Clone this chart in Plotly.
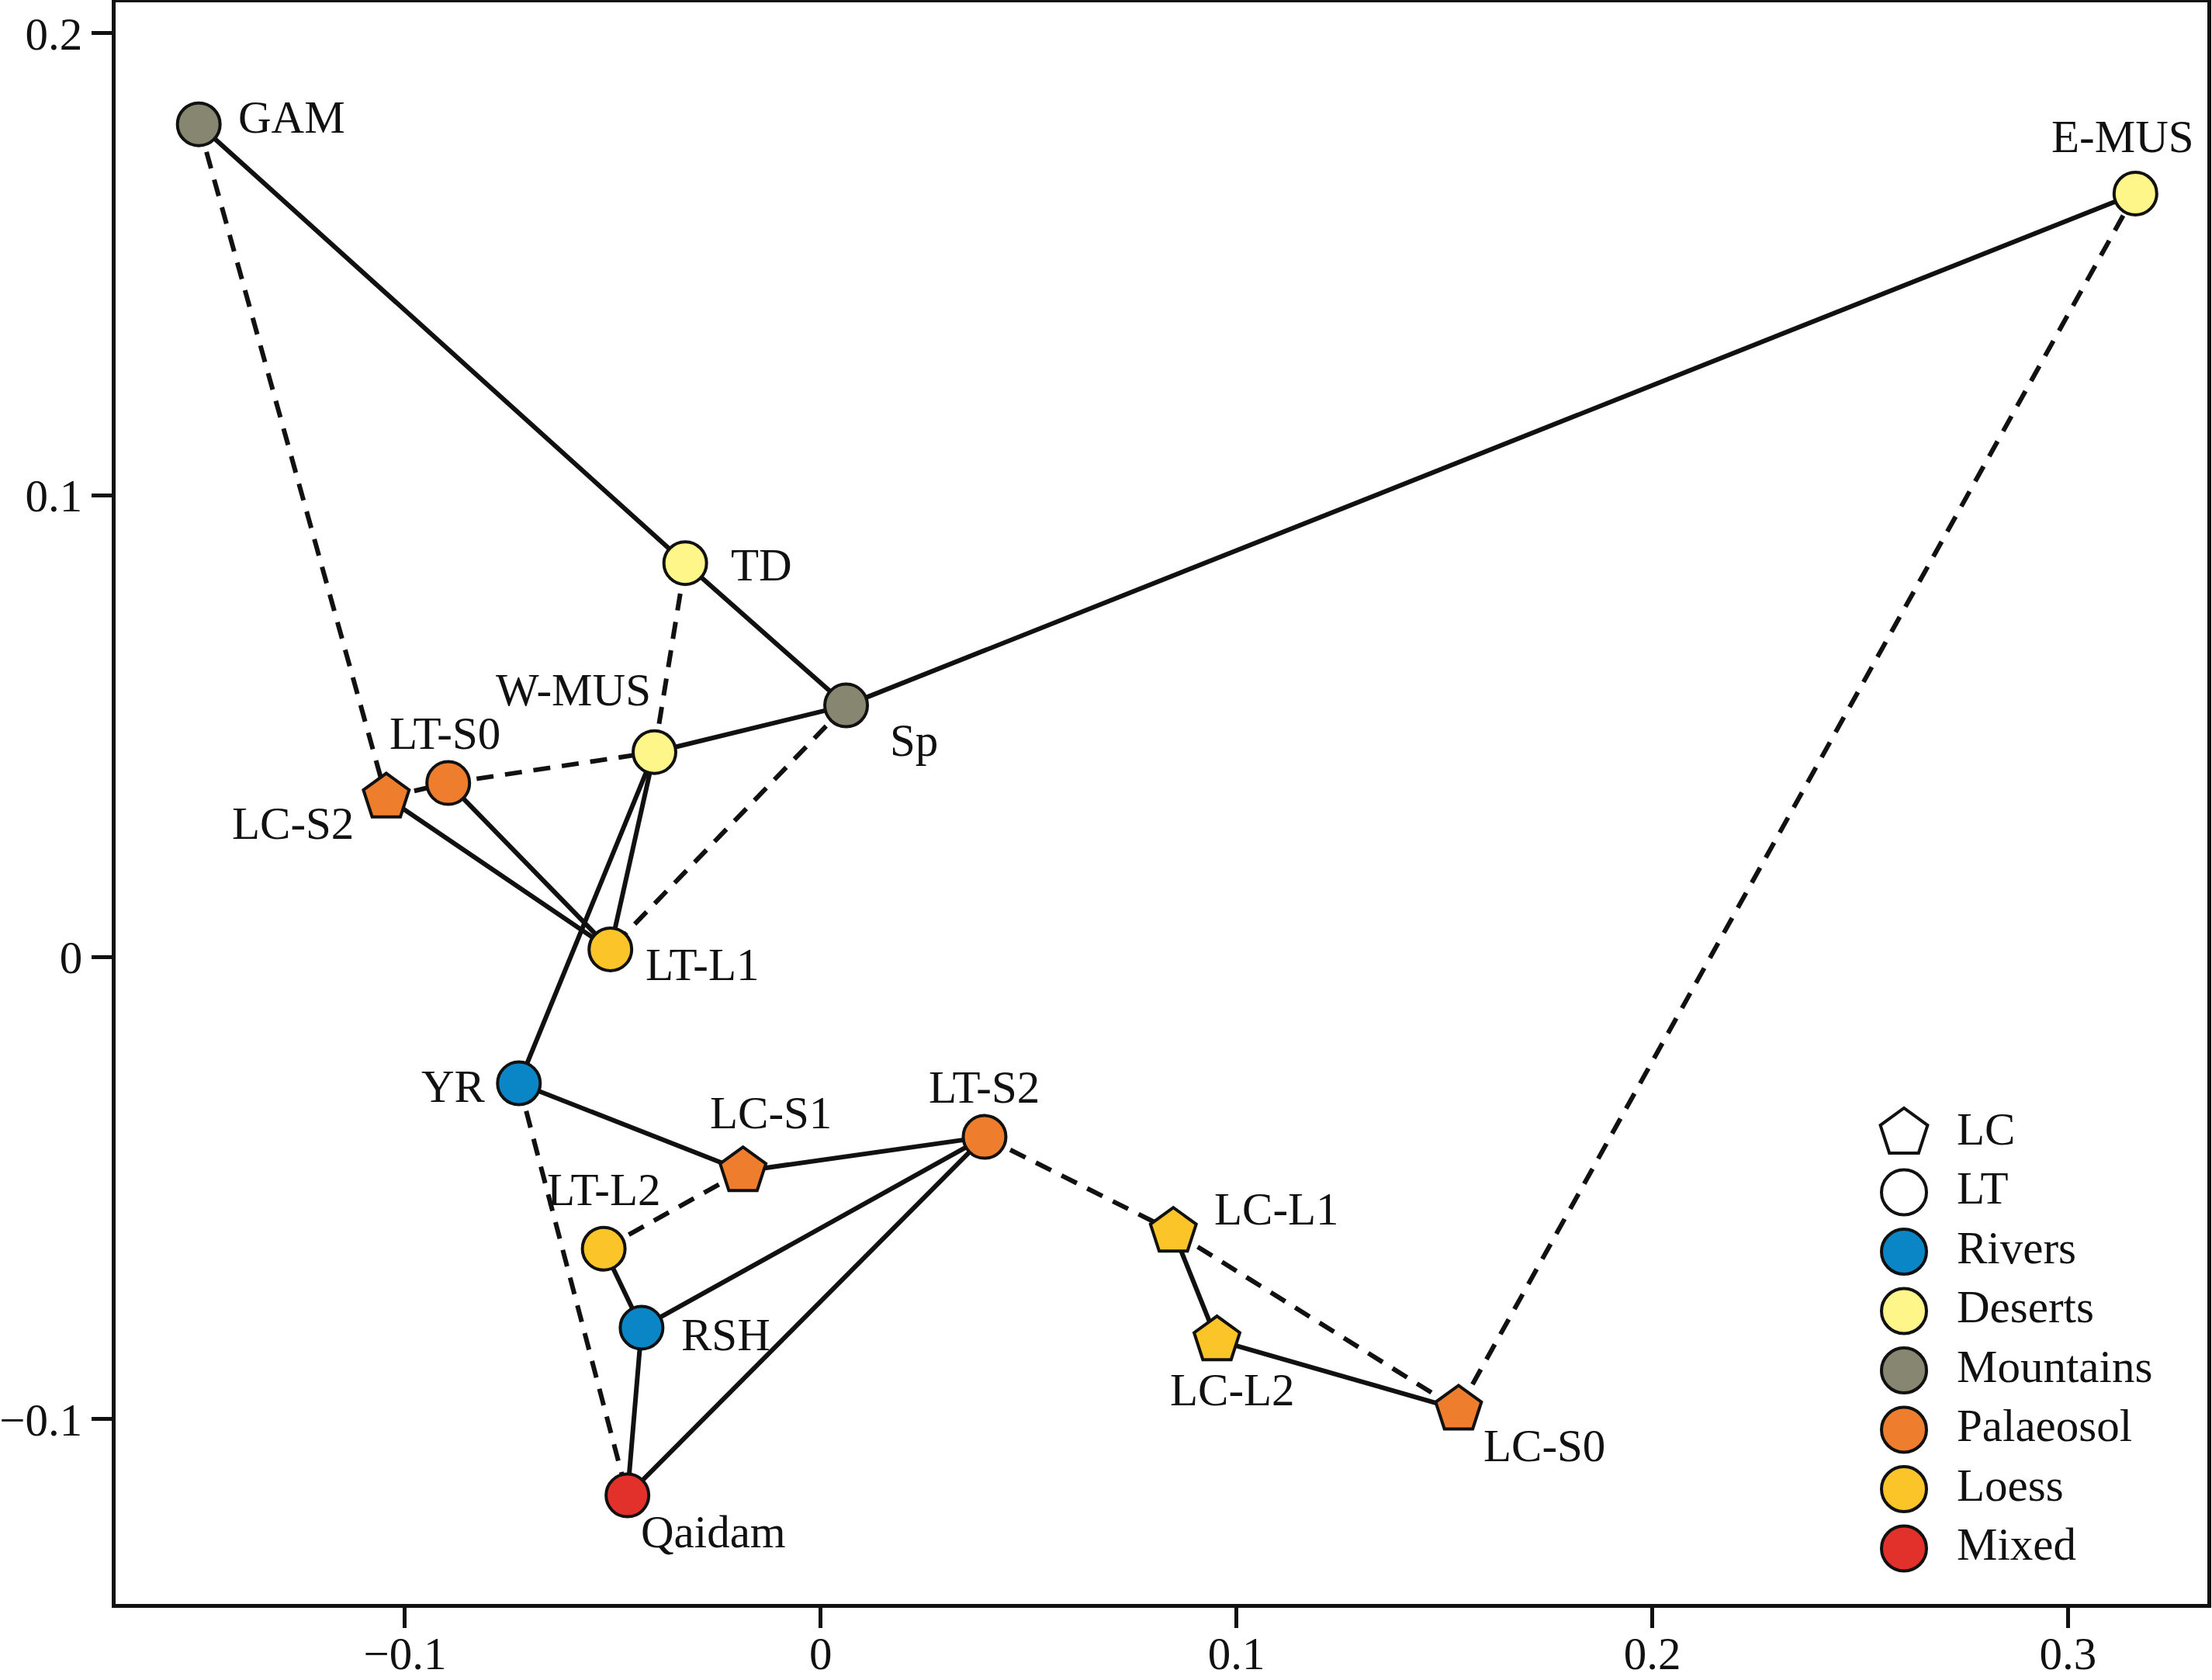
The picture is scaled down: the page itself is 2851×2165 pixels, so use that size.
import plotly.graph_objects as go

# ---- data ----
names = ["GAM", "E-MUS", "TD", "Sp", "W-MUS", "LT-S0", "LC-S2", "LT-L1", "YR",
         "LC-S1", "LT-S2", "LT-L2", "RSH", "Qaidam", "LC-L1", "LC-L2", "LC-S0"]
xs = [-0.1496, 0.3162, -0.0326, 0.0061, -0.0400, -0.0896, -0.1045, -0.0506, -0.0726,
      -0.0187, 0.0394, -0.0522, -0.0431, -0.0465, 0.0848, 0.0953, 0.1534]
ys = [0.1803, 0.1653, 0.0853, 0.0545, 0.0444, 0.0377, 0.0346, 0.0017, -0.0273,
      -0.0463, -0.0389, -0.0631, -0.0802, -0.1165, -0.0594, -0.0829, -0.0979]
groups = ["Mountains", "Deserts", "Deserts", "Mountains", "Deserts", "Palaeosol", "Palaeosol",
          "Loess", "Rivers", "Palaeosol", "Palaeosol", "Loess", "Rivers", "Mixed",
          "Loess", "Loess", "Palaeosol"]
sections = ["", "", "", "", "", "LT", "LC", "LT", "", "LC", "LT", "LT", "", "", "LC", "LC", "LC"]

solid_edges = [("GAM", "TD"), ("TD", "Sp"), ("Sp", "E-MUS"), ("Sp", "W-MUS"),
               ("W-MUS", "YR"), ("W-MUS", "LT-L1"), ("LT-S0", "LT-L1"), ("LC-S2", "LT-L1"),
               ("YR", "LC-S1"), ("LC-S1", "LT-S2"), ("LT-S2", "RSH"), ("LT-S2", "Qaidam"),
               ("LT-L2", "RSH"), ("RSH", "Qaidam"), ("LC-L1", "LC-L2"), ("LC-L2", "LC-S0")]
dashed_edges = [("GAM", "LC-S2"), ("LC-S2", "LT-S0"), ("LT-S0", "W-MUS"), ("W-MUS", "TD"),
                ("Sp", "LT-L1"), ("YR", "Qaidam"), ("LT-L2", "LC-S1"), ("LT-S2", "LC-L1"),
                ("LC-L1", "LC-S0"), ("LC-S0", "E-MUS")]

legend_labels = ["LC", "LT", "Rivers", "Deserts", "Mountains", "Palaeosol", "Loess", "Mixed"]
x_ticks = [-0.1, 0, 0.1, 0.2, 0.3]
y_ticks = [-0.1, 0, 0.1, 0.2]

# ---- styles ----
colors = {"Rivers": "#0A86C6", "Deserts": "#FFF68A", "Mountains": "#878671",
          "Palaeosol": "#EE7E2E", "Loess": "#FBC429", "Mixed": "#E2312B", "": "#FFFFFF"}
label_shift = {
    "GAM": (120, 9), "E-MUS": (-16, 73), "TD": (98, -2), "Sp": (87, -45),
    "W-MUS": (-105, 80), "LT-S0": (-4, 64), "LC-S2": (-120, -33), "LT-L1": (118, -20),
    "YR": (-84, -4), "LC-S1": (36, 75), "LT-S2": (0, 64), "LT-L2": (0, 76),
    "RSH": (109, -9), "Qaidam": (111, -47), "LC-L1": (133, 29), "LC-L2": (20, -64),
    "LC-S0": (111, -47)}
FONT = "Liberation Serif"
FS = 59

W, H = 2851, 2165
ML, MR, MT, MB = 149, 6, 3, 98
PW, PH = W - ML - MR, H - MT - MB

pos = {n: (x, y) for n, x, y in zip(names, xs, ys)}

fig = go.Figure()

for edges, dash in [(solid_edges, "solid"), (dashed_edges, "22px,15px")]:
    ex, ey = [], []
    for a, b in edges:
        ex += [pos[a][0], pos[b][0], None]
        ey += [pos[a][1], pos[b][1], None]
    fig.add_trace(go.Scatter(x=ex, y=ey, mode="lines",
                             line=dict(color="#111111", width=6, dash=dash),
                             hoverinfo="skip", showlegend=False))

symbols = ["pentagon" if s == "LC" else "circle" for s in sections]
sizes = [62 if s == "LC" else 55 for s in sections]
fig.add_trace(go.Scatter(
    x=xs, y=ys, mode="markers", text=names,
    marker=dict(symbol=symbols, size=sizes, opacity=1,
                color=[colors[g] for g in groups],
                line=dict(color="#111111", width=4)),
    showlegend=False))

for n, x, y in zip(names, xs, ys):
    dx, dy = label_shift[n]
    fig.add_annotation(x=x, y=y, text=n, showarrow=False, xshift=dx, yshift=dy,
                       font=dict(family=FONT, size=FS, color="#111111"))

# ---- custom legend on an overlay pixel axis ----
leg_x_sym = 2454 - ML
leg_x_txt = 2522 - ML
leg_y0 = 1460 - MT
leg_dy = 76.5
leg_ys = [leg_y0 + i * leg_dy for i in range(len(legend_labels))]
leg_sym = ["pentagon"] + ["circle"] * (len(legend_labels) - 1)
leg_size = [64] + [58] * (len(legend_labels) - 1)
leg_col = ["#FFFFFF", "#FFFFFF"] + [colors[l] for l in legend_labels[2:]]
fig.add_trace(go.Scatter(
    x=[leg_x_sym] * len(legend_labels), y=leg_ys, mode="markers",
    marker=dict(symbol=leg_sym, size=leg_size, opacity=1, color=leg_col,
                line=dict(color="#111111", width=4)),
    xaxis="x2", yaxis="y2", showlegend=False, hoverinfo="skip"))
fig.add_trace(go.Scatter(
    x=[leg_x_txt] * len(legend_labels), y=leg_ys, mode="text", text=legend_labels,
    textposition="middle right",
    textfont=dict(family=FONT, size=FS, color="#111111"),
    xaxis="x2", yaxis="y2", showlegend=False, hoverinfo="skip"))

fig.update_layout(
    width=W, height=H,
    margin=dict(l=ML, r=MR, t=MT, b=MB),
    plot_bgcolor="white", paper_bgcolor="white",
    font=dict(family=FONT, size=FS, color="#111111"),
    xaxis=dict(range=[-0.1696, 0.3335], tickvals=x_ticks, ticktext=["\u22120.1", "0", "0.1", "0.2", "0.3"],
               showgrid=False, zeroline=False, showline=True, linecolor="#111111", linewidth=5,
               mirror=True, ticks="outside", ticklen=26, tickwidth=5, tickcolor="#111111",
               ticklabelstandoff=-18,
               automargin=False, tickfont=dict(family=FONT, size=FS)),
    yaxis=dict(range=[-0.14, 0.2067], tickvals=y_ticks, ticktext=["\u22120.1", "0", "0.1", "0.2"],
               showgrid=False, zeroline=False, showline=True, linecolor="#111111", linewidth=5,
               mirror=True, ticks="outside", ticklen=26, tickwidth=5, tickcolor="#111111",
               automargin=False, tickfont=dict(family=FONT, size=FS)),
    xaxis2=dict(range=[0, PW], overlaying="x", visible=False, fixedrange=True),
    yaxis2=dict(range=[PH, 0], overlaying="y", visible=False, fixedrange=True),
    showlegend=False,
)

fig.write_html("out.html", config={"displayModeBar": False},
               post_script="document.body.style.margin='0';")
